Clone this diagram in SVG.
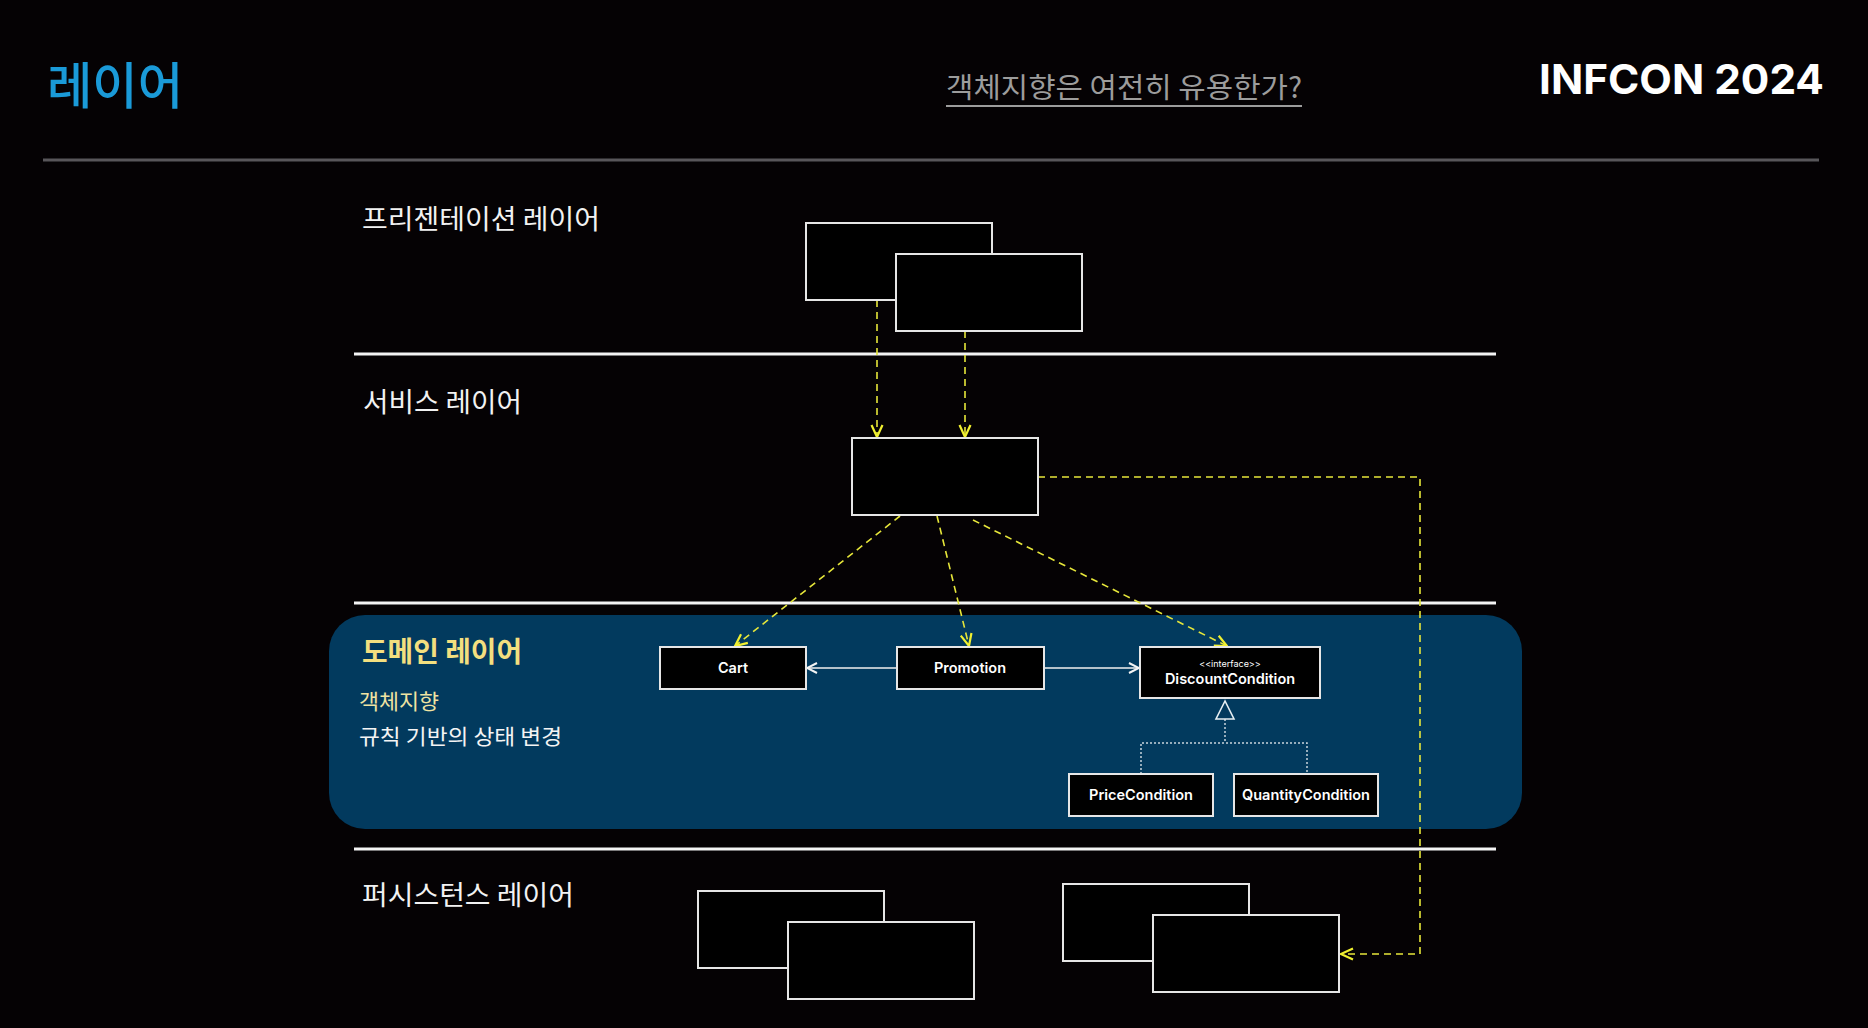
<svg xmlns="http://www.w3.org/2000/svg" width="1868" height="1028" viewBox="0 0 1868 1028">
<defs>
<style>
.ko{font-family:"Noto Sans CJK KR","Noto Sans",sans-serif;}
.layer{font-size:27px;fill:#f2f2f2;}
.box{fill:#000;stroke:#e6e6e6;stroke-width:2;}
.cls{font-family:Inter,"Liberation Sans",sans-serif;font-size:14.5px;font-weight:600;fill:#fff;text-anchor:middle;}
.stereo{font-family:Inter,"Liberation Sans",sans-serif;font-size:9px;font-weight:400;fill:#fff;text-anchor:middle;}
.sep{stroke:#f4f4f4;stroke-width:3;}
.dep{fill:none;stroke:#e6e63a;stroke-width:1.6;stroke-dasharray:7 5;}
.assoc{fill:none;stroke:#f0f0f0;stroke-width:1.6;}
.real{fill:none;stroke:#c8d4dc;stroke-width:1.5;stroke-dasharray:2 2;}
</style>
<marker id="ya" viewBox="0 0 14 14" refX="13" refY="7" markerWidth="14" markerHeight="14" markerUnits="userSpaceOnUse" orient="auto">
<path d="M1,1.5 L13,7 L1,12.5" fill="none" stroke="#f0f030" stroke-width="2.2"/>
</marker>
<marker id="wa" viewBox="0 0 12 12" refX="11" refY="6" markerWidth="12" markerHeight="12" markerUnits="userSpaceOnUse" orient="auto">
<path d="M1,1 L11,6 L1,11" fill="none" stroke="#f4f4f4" stroke-width="2"/>
</marker>
</defs>
<rect width="1868" height="1028" fill="#050204"/>

<g id="header">
<text class="ko" x="47" y="104" font-size="50" font-weight="500" fill="#1a9ad8" textLength="136" lengthAdjust="spacingAndGlyphs">레이어</text>
<text class="ko" x="946" y="98" font-size="28" fill="#9c9c9c" textLength="356" lengthAdjust="spacingAndGlyphs">객체지향은 여전히 유용한가?</text>
<line x1="946" y1="106" x2="1302" y2="106" stroke="#9c9c9c" stroke-width="2"/>
<text x="1539" y="94" font-family="Inter,'Liberation Sans',sans-serif" font-size="41" font-weight="700" fill="#fff" textLength="285" lengthAdjust="spacingAndGlyphs">INFCON 2024</text>
<line x1="43" y1="160" x2="1819" y2="160" stroke="#58565a" stroke-width="3"/>
</g>

<g id="layers">
<line class="sep" x1="354" y1="354" x2="1496" y2="354"/>
<line class="sep" x1="354" y1="603" x2="1496" y2="603"/>
<line class="sep" x1="354" y1="849" x2="1496" y2="849"/>
<text class="ko layer" x="362" y="229" textLength="238" lengthAdjust="spacingAndGlyphs">프리젠테이션 레이어</text>
<text class="ko layer" x="363" y="412" textLength="159" lengthAdjust="spacingAndGlyphs">서비스 레이어</text>
<text class="ko layer" x="362" y="905" textLength="212" lengthAdjust="spacingAndGlyphs">퍼시스턴스 레이어</text>
</g>

<g id="domain-layer">
<rect x="329" y="615" width="1193" height="214" rx="36" fill="#023a5e"/>
<text class="ko" x="362" y="662" font-size="28" font-weight="700" fill="#f3df7f" textLength="160" lengthAdjust="spacingAndGlyphs">도메인 레이어</text>
<text class="ko" x="359" y="709" font-size="21" fill="#efe3a2" textLength="80" lengthAdjust="spacingAndGlyphs">객체지향</text>
<text class="ko" x="359" y="744" font-size="21" fill="#f4f4f4" textLength="203" lengthAdjust="spacingAndGlyphs">규칙 기반의 상태 변경</text>
</g>

<g id="connectors">
<line class="dep" x1="877" y1="300" x2="877" y2="437" marker-end="url(#ya)"/>
<line class="dep" x1="965" y1="331" x2="965" y2="437" marker-end="url(#ya)"/>
<polyline class="dep" points="1038,477 1420,477 1420,954 1341,954" marker-end="url(#ya)"/>
<line class="dep" x1="900" y1="516" x2="735" y2="646" marker-end="url(#ya)"/>
<line class="dep" x1="937" y1="516" x2="969" y2="646" marker-end="url(#ya)"/>
<line class="dep" x1="973" y1="520" x2="1227" y2="646" marker-end="url(#ya)"/>
<line class="assoc" x1="897" y1="668" x2="807" y2="668" marker-end="url(#wa)"/>
<line class="assoc" x1="1044" y1="668" x2="1139" y2="668" marker-end="url(#wa)"/>
<polyline class="real" points="1225,719 1225,743"/>
<polyline class="real" points="1141,774 1141,743 1307,743 1307,774"/>
<polygon points="1225,701 1216,719 1234,719" fill="none" stroke="#e6eef2" stroke-width="1.6"/>
</g>

<g id="presentation-1"><rect class="box" x="806" y="223" width="186" height="77"/></g>
<g id="presentation-2"><rect class="box" x="896" y="254" width="186" height="77"/></g>
<g id="service"><rect class="box" x="852" y="438" width="186" height="77"/></g>

<g id="cart"><rect class="box" x="660" y="647" width="146" height="42"/><text class="cls" x="733" y="673">Cart</text></g>
<g id="promotion"><rect class="box" x="897" y="647" width="147" height="42"/><text class="cls" x="970" y="673">Promotion</text></g>
<g id="discount-condition"><rect class="box" x="1140" y="647" width="180" height="51"/>
<text class="stereo" x="1230" y="667">&lt;&lt;interface&gt;&gt;</text>
<text class="cls" x="1230" y="684">DiscountCondition</text></g>
<g id="price-condition"><rect class="box" x="1069" y="774" width="144" height="42"/><text class="cls" x="1141" y="800">PriceCondition</text></g>
<g id="quantity-condition"><rect class="box" x="1234" y="774" width="144" height="42"/><text class="cls" x="1306" y="800">QuantityCondition</text></g>

<g id="persistence-1"><rect class="box" x="698" y="891" width="186" height="77"/></g>
<g id="persistence-2"><rect class="box" x="788" y="922" width="186" height="77"/></g>
<g id="persistence-3"><rect class="box" x="1063" y="884" width="186" height="77"/></g>
<g id="persistence-4"><rect class="box" x="1153" y="915" width="186" height="77"/></g>
</svg>
